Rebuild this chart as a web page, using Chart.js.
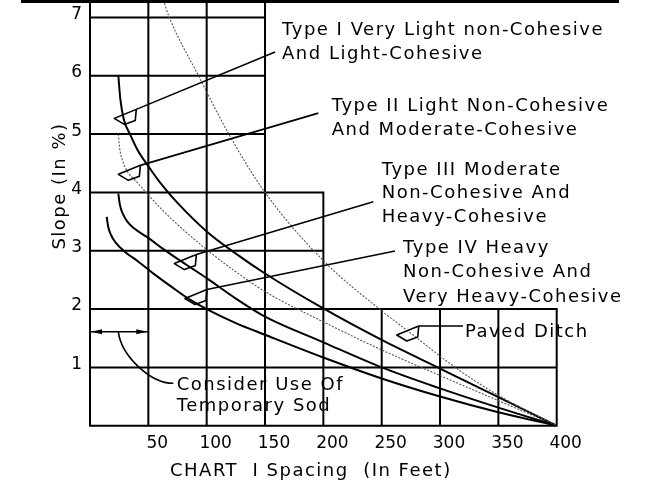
<!DOCTYPE html>
<html>
<head>
<meta charset="utf-8">
<script src="https://cdn.jsdelivr.net/npm/chart.js@4.4.0/dist/chart.umd.min.js"></script>
<style>
  html, body { margin: 0; padding: 0; background: #fff; }
  #wrap { width: 654px; height: 487px; position: relative; }
</style>
</head>
<body>
<div id="wrap"><canvas id="slopeChart"></canvas></div>
<script>
// axis ticks
const xTicks = [50, 100, 150, 200, 250, 300, 350, 400];
const yTicks = [1, 2, 3, 4, 5, 6, 7];

// curves: spacing in feet (x) / slope in % (y)
const pavedX = [62.8, 68, 93, 119, 150, 200, 250, 274, 313, 350, 400];
const pavedY = [7.3, 7.0, 6.0, 5.0, 4.0, 2.83, 1.97, 1.6, 1.0, 0.52, 0];

const type1X = [24.3, 26, 29, 34.3, 41, 50, 62, 75, 100, 125, 150, 200, 250, 300, 350, 400];
const type1Y = [6.0, 5.6, 5.25, 5.0, 4.72, 4.45, 4.12, 3.82, 3.33, 2.95, 2.61, 2.01, 1.47, 0.98, 0.49, 0];

const type2X = [24.3, 25.5, 27.7, 32, 38.6, 48.9, 62, 75, 100, 125, 150, 200, 250, 300, 350, 400];
const type2Y = [5.0, 4.75, 4.56, 4.36, 4.21, 3.98, 3.7, 3.45, 3.02, 2.64, 2.30, 1.78, 1.30, 0.86, 0.43, 0];

const type3X = [24.3, 25.5, 28, 32, 38, 50, 62, 75, 88, 100, 125, 150, 200, 250, 300, 350, 400];
const type3Y = [3.98, 3.8, 3.64, 3.5, 3.38, 3.22, 3.04, 2.86, 2.69, 2.53, 2.18, 1.87, 1.43, 1.0, 0.64, 0.31, 0];

const type4X = [14.3, 15.5, 18, 22, 30, 41, 55, 70, 85, 100, 125, 150, 200, 250, 300, 350, 400];
const type4Y = [3.58, 3.42, 3.27, 3.14, 2.98, 2.82, 2.6, 2.38, 2.17, 2.0, 1.76, 1.56, 1.17, 0.81, 0.5, 0.23, 0];

const toPoints = (xs, ys) => xs.map((x, i) => ({ x: x, y: ys[i] }));
const FONT = '"DejaVu Sans", sans-serif';

// callouts: wedge tip on the curve, end of the leader, text lines (all in chart units)
const callouts = [
  { tip: [20.8, 5.27], end: [158.6, 6.41], lines: [
    ['Type I Very Light non-Cohesive', 164.6, 6.70], ['And Light-Cohesive', 164.6, 6.283]] },
  { tip: [24.3, 4.31], end: [195.7, 5.36], lines: [
    ['Type II Light Non-Cohesive', 207.2, 5.40], ['And Moderate-Cohesive', 207.2, 4.985]] },
  { tip: [72.3, 2.78], end: [242.8, 3.84], lines: [
    ['Type III Moderate', 250, 4.30], ['Non-Cohesive And', 250, 3.899], ['Heavy-Cohesive', 250, 3.498]] },
  { tip: [81.4, 2.18], end: [261.4, 2.995], lines: [
    ['Type IV Heavy', 268.3, 2.956], ['Non-Cohesive And', 268.3, 2.555], ['Very Heavy-Cohesive', 268.3, 2.126]] },
  { tip: [262.9, 1.555], end: [319.7, null], lines: [['Paved Ditch', 321.4, 1.526]] }
];

const stepGrid = {
  id: 'stepGrid',
  beforeDatasetsDraw(chart) {
    const { ctx, scales: { x, y } } = chart;
    const top = y.max;
    const segs = [
      [0, 0, 400, 0], [0, 1, 400, 1], [0, 2, 400, 2], [0, 3, 200, 3], [0, 4, 200, 4],
      [0, 5, 150, 5], [0, 6, 150, 6], [0, 7, 150, 7],
      [0, 0, 0, top], [50, 0, 50, top], [100, 0, 100, top], [150, 0, 150, top],
      [200, 0, 200, 4], [250, 0, 250, 2], [300, 0, 300, 2], [350, 0, 350, 2], [400, 0, 400, 2]
    ];
    ctx.save();
    ctx.strokeStyle = '#000';
    ctx.lineWidth = 2;
    ctx.lineCap = 'square';
    ctx.beginPath();
    segs.forEach(([x1, y1, x2, y2]) => {
      ctx.moveTo(x.getPixelForValue(x1), y.getPixelForValue(y1));
      ctx.lineTo(x.getPixelForValue(x2), y.getPixelForValue(y2));
    });
    ctx.stroke();
    ctx.restore();
  }
};

const notes = {
  id: 'notes',
  afterDraw(chart) {
    const { ctx, scales: { x, y } } = chart;
    const px = v => x.getPixelForValue(v);
    const py = v => y.getPixelForValue(v);
    ctx.save();
    // frame edge at the top
    ctx.fillStyle = '#000';
    ctx.fillRect(21, 0, 598, 3);

    ctx.strokeStyle = '#000';
    ctx.lineWidth = 1.6;
    ctx.lineJoin = 'round';
    callouts.forEach(c => {
      const tx = px(c.tip[0]), ty = py(c.tip[1]);
      ctx.beginPath();
      ctx.moveTo(tx, ty);
      ctx.lineTo(tx + 22, ty - 9);
      ctx.lineTo(tx + 21, ty + 2);
      ctx.lineTo(tx + 10, ty + 6);
      ctx.closePath();
      ctx.moveTo(tx + 22, ty - 9);
      if (c.end[1] === null) {
        ctx.lineTo(px(c.end[0]), ty - 9);
      } else {
        ctx.lineTo(px(c.end[0]), py(c.end[1]));
      }
      ctx.stroke();
    });

    // temporary sod marker
    const ay = py(1.61), ax0 = px(0), ax1 = px(50);
    ctx.beginPath();
    ctx.moveTo(ax0, ay); ctx.lineTo(ax1, ay);
    ctx.stroke();
    ctx.beginPath();
    ctx.moveTo(ax0 + 1, ay); ctx.lineTo(ax0 + 12, ay - 2.5); ctx.lineTo(ax0 + 12, ay + 2.5); ctx.closePath();
    ctx.moveTo(ax1 - 1, ay); ctx.lineTo(ax1 - 12, ay - 2.5); ctx.lineTo(ax1 - 12, ay + 2.5); ctx.closePath();
    ctx.fill();
    const sx = px(24.3), ex = px(71.4), ey = py(0.727);
    ctx.beginPath();
    ctx.moveTo(sx, ay);
    ctx.bezierCurveTo(sx + 3, ay + 24, sx + 32, ey, ex, ey);
    ctx.stroke();

    // text
    ctx.font = '18px ' + FONT;
    ctx.letterSpacing = '1.5px';
    ctx.textAlign = 'left';
    ctx.textBaseline = 'alphabetic';
    callouts.forEach(c => c.lines.forEach(([t, lx, ly]) => ctx.fillText(t, px(lx), py(ly))));
    ctx.fillText('Consider Use Of', px(74.3), py(0.612));
    ctx.fillText('Temporary Sod', px(74.3), py(0.252));

    // axis titles
    ctx.fillText('CHART  I Spacing  (In Feet)', 170, 476);
    ctx.translate(65, 186);
    ctx.rotate(-Math.PI / 2);
    ctx.textAlign = 'center';
    ctx.fillText('Slope (In %)', 0, 0);
    ctx.restore();
  }
};

const lineStyle = (solid) => ({
  borderColor: solid ? '#000' : '#555',
  borderWidth: solid ? 2 : 1.1,
  borderDash: solid ? [] : [2, 1.5],
  pointRadius: 0,
  fill: false,
  cubicInterpolationMode: 'monotone'
});

new Chart(document.getElementById('slopeChart'), {
  type: 'line',
  data: {
    datasets: [
      { label: 'Paved Ditch', data: toPoints(pavedX, pavedY), ...lineStyle(false) },
      { label: 'Type I', data: toPoints(type1X, type1Y), ...lineStyle(true) },
      { label: 'Type II', data: toPoints(type2X, type2Y), ...lineStyle(false) },
      { label: 'Type III', data: toPoints(type3X, type3Y), ...lineStyle(true) },
      { label: 'Type IV', data: toPoints(type4X, type4Y), ...lineStyle(true) }
    ]
  },
  options: {
    responsive: true,
    maintainAspectRatio: false,
    animation: false,
    layout: { padding: { left: 0, right: 97.3, top: 0, bottom: 0 } },
    plugins: { legend: { display: false }, tooltip: { enabled: false } },
    scales: {
      x: {
        type: 'linear',
        min: 0,
        max: 400,
        grid: { display: false, drawTicks: false },
        border: { display: false },
        afterBuildTicks: s => { s.ticks = xTicks.map(v => ({ value: v })); },
        afterFit: s => { s.height = 61.3; s.paddingLeft = 0; s.paddingRight = 0; },
        ticks: { color: '#000', font: { family: FONT, size: 17 }, padding: 8, labelOffset: 9, maxRotation: 0 }
      },
      y: {
        type: 'linear',
        min: 0,
        max: 7.3,
        grid: { display: false, drawTicks: false },
        border: { display: false },
        afterBuildTicks: s => { s.ticks = yTicks.map(v => ({ value: v })); },
        afterFit: s => { s.width = 90; s.paddingTop = 0; s.paddingBottom = 0; },
        ticks: { color: '#000', font: { family: FONT, size: 17 }, padding: 8, labelOffset: -3 }
      }
    }
  },
  plugins: [stepGrid, notes]
});
</script>
</body>
</html>
